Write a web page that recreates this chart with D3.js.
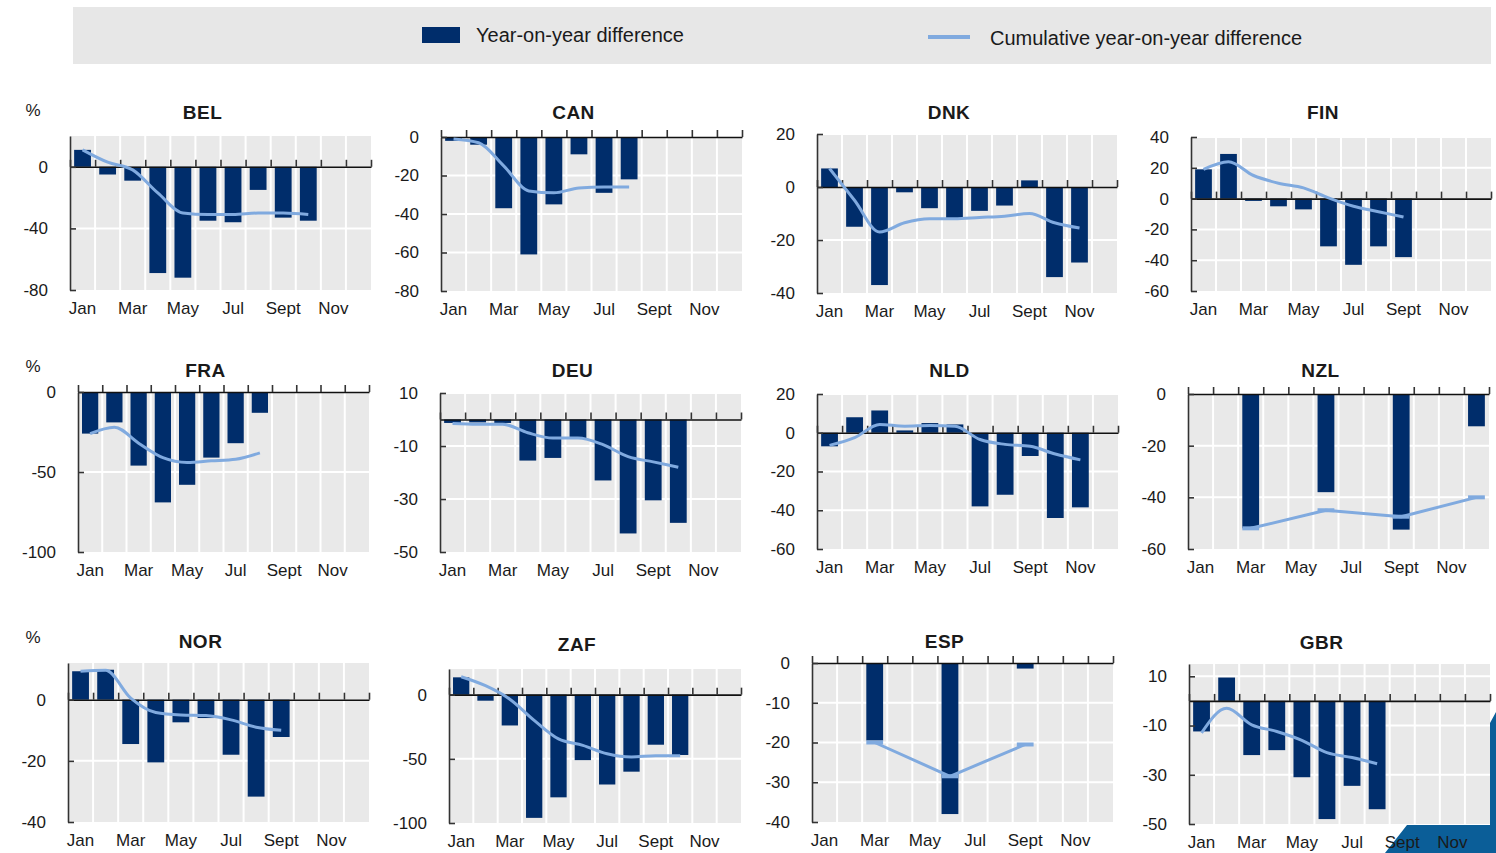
<!DOCTYPE html>
<html>
<head>
<meta charset="utf-8">
<script src="https://cdn.jsdelivr.net/npm/d3@7"></script>
<style>
  body { margin: 0; background: #fff; }
  svg text { font-family: "Liberation Sans", Arial, sans-serif; fill: #1a1a1a; }
</style>
</head>
<body>
<svg id="chart" width="1496" height="853"></svg>
<script>
// ---- data ----
const months = ["Jan", "Feb", "Mar", "Apr", "May", "Jun", "Jul", "Aug", "Sept", "Oct", "Nov", "Dec"];
const countries = ["BEL", "CAN", "DNK", "FIN", "FRA", "DEU", "NLD", "NZL", "NOR", "ZAF", "ESP", "GBR"];

// year-on-year difference (bars), %
const yoyBEL = [11, -5, -9, -69, -72, -35, -36, -15, -33, -35, null, null];
const yoyCAN = [-2, -4, -37, -61, -35, -9, -29, -22, null, null, null, null];
const yoyDNK = [7, -15, -37, -2, -8, -12, -9, -7, 2.5, -34, -28.5, null];
const yoyFIN = [19, 29, -1.5, -5, -7, -31, -43, -31, -38, null, null, null];
const yoyFRA = [-26, -19, -46, -69, -58, -41, -32, -13, null, null, null, null];
const yoyDEU = [-1.3, -1.1, -1.3, -15.5, -14.5, -7, -23, -43, -30.5, -39, null, null];
const yoyNLD = [-7, 8, 11.5, 1.2, 5, 4.3, -38, -32, -12, -44, -38.5, null];
const yoyNZL = [null, null, -52, null, null, -38, null, null, -52.5, null, null, -12.5];
const yoyNOR = [9.3, 9.8, -14.5, -20.5, -7.4, -6, -18, -31.7, -12.2, null, null, null];
const yoyZAF = [13.5, -4.7, -24, -96, -80, -51, -70, -60, -39, -47, null, null];
const yoyESP = [null, null, -19.5, null, null, -38, null, null, -1.4, null, null, null];
const yoyGBR = [-12.4, 9.5, -22, -20, -31, -48, -34.5, -44, null, null, null, null];

// cumulative year-on-year difference (line), %
const cumBEL = [11, 3, -2, -17, -30, -31, -31, -30, -30, -31, null, null];
const cumCAN = [-1, -3, -15, -28, -29, -26.5, -26, -26, null, null, null, null];
const cumDNK = [7, -5, -17, -13.5, -12, -12, -11.5, -11, -10, -13.5, -15.5, null];
const cumFIN = [19, 24, 15, 10, 7, 0.5, -5, -8.5, -12, null, null, null];
const cumFRA = [-26, -22, -32, -41, -44, -43, -42, -38, null, null, null, null];
const cumDEU = [-1.5, -1.8, -1.8, -5, -7, -7, -9.5, -14, -16, -18, null, null];
const cumNLD = [-6.5, -2.5, 4.3, 3.4, 3.8, 3.3, -3.5, -6, -7, -11, -14, null];
const cumNZL = [null, null, -52, null, null, -45, null, null, -47.5, null, null, -40];
const cumNOR = [9.3, 9.6, 0.5, -4.2, -5, -5.2, -6.6, -9, -10, null, null, null];
const cumZAF = [14, 7, -3.5, -20, -34.5, -39.5, -46, -48.5, -47.5, -47.5, null, null];
const cumESP = [null, null, -20, null, null, -28.5, null, null, -20.5, null, null, null];
const cumGBR = [-13, -3, -9.7, -12.4, -16, -21, -23, -25.5, null, null, null, null];

// y axis ranges and tick labels
const yDomains = [[-80, 20], [-80, 0], [-40, 20], [-60, 40], [-100, 0], [-50, 10],
                  [-60, 20], [-60, 0], [-40, 12], [-100, 20], [-40, 0], [-50, 15]];
const yTicks = [[-80, -40, 0], [-80, -60, -40, -20, 0], [-40, -20, 0, 20], [-60, -40, -20, 0, 20, 40],
                [-100, -50, 0], [-50, -30, -10, 10], [-60, -40, -20, 0, 20], [-60, -40, -20, 0],
                [-40, -20, 0], [-100, -50, 0], [-40, -30, -20, -10, 0], [-50, -30, -10, 10]];

const yoyAll = [yoyBEL, yoyCAN, yoyDNK, yoyFIN, yoyFRA, yoyDEU, yoyNLD, yoyNZL, yoyNOR, yoyZAF, yoyESP, yoyGBR];
const cumAll = [cumBEL, cumCAN, cumDNK, cumFIN, cumFRA, cumDEU, cumNLD, cumNZL, cumNOR, cumZAF, cumESP, cumGBR];

// ---- layout (plot boxes: x0, y0, x1, y1) ----
const boxes = [
  [70, 136, 371, 290], [441, 137, 742, 291], [817, 134, 1117, 293], [1191, 137, 1491, 291],
  [78, 392, 369, 552], [440, 393, 741, 552], [817, 394, 1118, 549], [1188, 394, 1489, 549],
  [68, 663, 369, 822], [449, 669, 741, 823], [812, 663, 1113, 822], [1189, 664, 1490, 824]
];
const titleY = [119, 119, 119, 119, 377, 377, 377, 377, 648, 651, 648, 649];

const barColor = "#002d6b",
      lineColor = "#80aadf",
      plotBg = "#e9e9e9";

const svg = d3.select("#chart");

// corner decoration, bottom right (behind the labels)
svg.append("path")
    .attr("d", "M1385,853 L1407,825 L1490,825 L1490,723 L1496,712 L1496,853 Z")
    .attr("fill", "#0b5e98");

// legend
svg.append("rect").attr("x", 73).attr("y", 7).attr("width", 1418).attr("height", 57).attr("fill", "#e7e7e7");
svg.append("rect").attr("x", 422).attr("y", 27).attr("width", 38).attr("height", 16).attr("fill", barColor);
svg.append("text").attr("x", 476).attr("y", 42).style("font-size", "20px").text("Year-on-year difference");
svg.append("line").attr("x1", 928).attr("x2", 970).attr("y1", 37).attr("y2", 37)
    .attr("stroke", lineColor).attr("stroke-width", 4);
svg.append("text").attr("x", 990).attr("y", 45).style("font-size", "20px").text("Cumulative year-on-year difference");

countries.forEach((c, i) => {
    const [x0, y0, x1, y1] = boxes[i];
    const g = svg.append("g").attr("class", "panel");

    const x = d3.scaleBand().domain(months).range([x0, x1]).paddingInner(0.33).paddingOuter(0.165);
    const xi = d3.scaleLinear().domain([0, 12]).range([x0, x1]);
    const y = d3.scaleLinear().domain(yDomains[i]).range([y1, y0]);

    g.append("rect")
        .attr("x", x0).attr("y", y0)
        .attr("width", x1 - x0).attr("height", y1 - y0)
        .attr("fill", plotBg);

    // gridlines
    g.selectAll(".vgrid").data(d3.range(1, 12)).join("line")
        .attr("class", "vgrid")
        .attr("x1", xi).attr("x2", xi)
        .attr("y1", y0).attr("y2", y1)
        .attr("stroke", "#fff").attr("stroke-width", 2);
    g.selectAll(".hgrid").data(yTicks[i].filter(t => t !== 0 && t !== yDomains[i][0])).join("line")
        .attr("class", "hgrid")
        .attr("x1", x0).attr("x2", x1)
        .attr("y1", y).attr("y2", y)
        .attr("stroke", "#fff").attr("stroke-width", 2);

    // bars
    const bars = months.map((m, k) => ({ m: m, v: yoyAll[i][k] })).filter(d => d.v != null);
    g.selectAll(".bar").data(bars).join("rect")
        .attr("class", "bar")
        .attr("x", d => x(d.m))
        .attr("width", x.bandwidth())
        .attr("y", d => y(Math.max(0, d.v)))
        .attr("height", d => Math.abs(y(d.v) - y(0)))
        .attr("fill", barColor);

    // zero axis with month ticks pointing up
    const zeroAxis = g.append("g")
        .attr("transform", "translate(0," + y(0) + ")")
        .call(d3.axisTop(xi).tickValues(d3.range(0, 13)).tickSizeInner(7).tickSizeOuter(0).tickFormat(""));
    zeroAxis.select(".domain").attr("stroke", "#111").attr("stroke-width", 1.6);
    zeroAxis.selectAll(".tick line").attr("stroke", "#333").attr("stroke-width", 1.6);

    // value axis
    const yAxis = g.append("g")
        .attr("transform", "translate(" + x0 + ",0)")
        .call(d3.axisLeft(y).tickValues(yTicks[i]).tickFormat(d => String(d))
            .tickSizeInner(-6).tickSizeOuter(0).tickPadding(22));
    yAxis.select(".domain").attr("stroke", "#333").attr("stroke-width", 1.6);
    yAxis.selectAll(".tick line").attr("stroke", "#333").attr("stroke-width", 1.6);
    yAxis.selectAll("text").style("font-size", "17px").attr("fill", "#1a1a1a");

    // month labels
    const mAxis = g.append("g")
        .attr("transform", "translate(0," + y1 + ")")
        .call(d3.axisBottom(x).tickValues(months.filter((d, k) => k % 2 === 0)).tickSize(0).tickPadding(12));
    mAxis.select(".domain").remove();
    mAxis.selectAll("text").style("font-size", "17px").attr("fill", "#1a1a1a");

    // cumulative line
    const pts = months.map((m, k) => ({ m: m, v: cumAll[i][k] })).filter(d => d.v != null);
    const lastIdx = months.indexOf(pts[pts.length - 1].m);
    const sparse = pts.length < lastIdx + 1 - months.indexOf(pts[0].m);
    const line = d3.line()
        .x(d => x(d.m) + x.bandwidth() / 2)
        .y(d => y(d.v))
        .curve(sparse ? d3.curveLinear : d3.curveMonotoneX);
    g.append("path")
        .datum(pts)
        .attr("d", line)
        .attr("fill", "none")
        .attr("stroke", lineColor)
        .attr("stroke-width", 3)
        .attr("stroke-linejoin", "round");
    if (sparse) {
        g.selectAll(".mark").data(pts).join("rect")
            .attr("class", "mark")
            .attr("x", d => x(d.m))
            .attr("width", x.bandwidth())
            .attr("y", d => y(d.v) - 2)
            .attr("height", 4)
            .attr("fill", lineColor);
    }

    // title
    g.append("text")
        .attr("x", (x0 + x1) / 2 - 18)
        .attr("y", titleY[i])
        .attr("text-anchor", "middle")
        .style("font-size", "19px")
        .style("font-weight", "bold")
        .style("letter-spacing", "0.5px")
        .attr("fill", "#000")
        .text(c);

    if (i % 4 === 0) {
        g.append("text")
            .attr("x", 33).attr("y", y0 - 20)
            .attr("text-anchor", "middle")
            .style("font-size", "17px")
            .text("%");
    }
});
</script>
</body>
</html>
